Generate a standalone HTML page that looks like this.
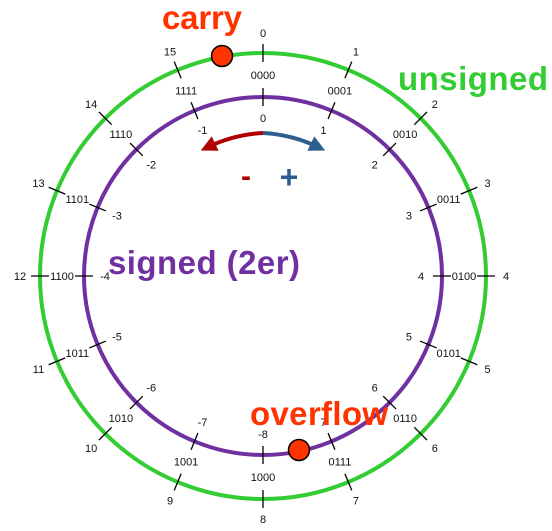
<!DOCTYPE html>
<html><head><meta charset="utf-8"><style>
html,body{margin:0;padding:0;background:#fff;}
svg{display:block;font-family:"Liberation Sans",Arial,sans-serif;}
</style></head><body>
<svg id="c" width="552" height="531" viewBox="0 0 552 531">
<defs>
<marker id="ar" viewBox="0 0 10 10" refX="5" refY="5" markerWidth="4" markerHeight="4" orient="auto"><path d="M0,0L10,5L0,10z" fill="#b00000"/></marker>
<marker id="ab" viewBox="0 0 10 10" refX="5" refY="5" markerWidth="4" markerHeight="4" orient="auto"><path d="M0,0L10,5L0,10z" fill="#2e5e8e"/></marker>
</defs>
<circle cx="263" cy="276" r="223" fill="none" stroke="#33cc33" stroke-width="4"/>
<circle cx="263" cy="276" r="179" fill="none" stroke="#7030a0" stroke-width="4"/>
<g id="ticks"></g>
<path d="M263,133 A145,145 0 0 0 208,147" fill="none" stroke="#b00000" stroke-width="4" marker-end="url(#ar)"/>
<path d="M263,133 A145,145 0 0 1 318,147" fill="none" stroke="#2e5e8e" stroke-width="4" marker-end="url(#ab)"/>
<text x="246" y="186" font-size="30" font-weight="bold" fill="#b00000" text-anchor="middle">-</text>
<text x="289" y="188" font-size="32" font-weight="bold" fill="#2e5e8e" text-anchor="middle">+</text>
<circle cx="222" cy="56" r="10.5" fill="#ff3300" stroke="#000" stroke-width="1.5"/>
<circle cx="299" cy="450" r="10.5" fill="#ff3300" stroke="#000" stroke-width="1.5"/>
<text x="162" y="29" font-size="33" font-weight="bold" fill="#ff3300" textLength="80">carry</text>
<text x="398" y="90" font-size="33" font-weight="bold" fill="#33cc33" textLength="150">unsigned</text>
<text x="250" y="425" font-size="33" font-weight="bold" fill="#ff3300" textLength="138">overflow</text>
<text x="108" y="274" font-size="33" font-weight="bold" fill="#7030a0" textLength="192">signed (2er)</text>
</svg>
<script>
const unsignedLabels=["0","1","2","3","4","5","6","7","8","9","10","11","12","13","14","15"];
const binaryLabels=["0000","0001","0010","0011","0100","0101","0110","0111","1000","1001","1010","1011","1100","1101","1110","1111"];
const signedLabels=["0","1","2","3","4","5","6","7","-8","-7","-6","-5","-4","-3","-2","-1"];
const cx=263,cy=276,Ro=223,Ri=179;
const g=document.getElementById('ticks');
const NS='http://www.w3.org/2000/svg';
function pt(a,r){return [cx+r*Math.sin(a),cy-r*Math.cos(a)];}
function line(a,r1,r2,name){const l=document.createElementNS(NS,'line');const p=pt(a,r1),q=pt(a,r2);
l.setAttribute('x1',p[0]);l.setAttribute('y1',p[1]);l.setAttribute('x2',q[0]);l.setAttribute('y2',q[1]);
l.setAttribute('stroke','#000');l.setAttribute('stroke-width','1.3');


g.appendChild(l);}
function txt(a,r,s,name){const t=document.createElementNS(NS,'text');const p=pt(a,r);
t.setAttribute('x',p[0]);t.setAttribute('y',p[1]+4);t.setAttribute('font-size','11');t.setAttribute('text-anchor','middle');t.setAttribute('fill','#111');
t.textContent=s;


g.appendChild(t);}
for(let i=0;i<unsignedLabels.length;i++){
 const a=i*2*Math.PI/unsignedLabels.length;
 line(a,Ro-9,Ro+9,'unsigned-tick');
 line(a,Ri-9,Ri+9,'signed-tick');
 txt(a,Ro+20,unsignedLabels[i],'unsigned-value-label');
 txt(a,(Ro+Ri)/2,binaryLabels[i],'binary-label');
 txt(a,Ri-21,signedLabels[i],'signed-value-label');
}
</script>
</body></html>
